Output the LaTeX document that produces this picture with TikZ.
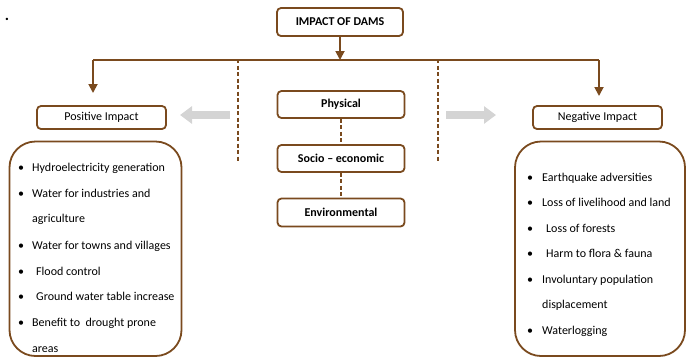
\documentclass[tikz,border=0pt]{standalone}
\usepackage{fontspec}
\setmainfont{Carlito}
\usetikzlibrary{arrows.meta}
\definecolor{dambrown}{RGB}{122,74,30}
\definecolor{arrowgray}{RGB}{212,212,212}
\begin{document}
\begin{tikzpicture}[x=1pt,y=-1pt,
  font=\fontsize{12}{14}\selectfont,
  box/.style={draw=dambrown,line width=1.8pt,rounded corners=4pt,inner sep=0pt,
    minimum width=127pt,minimum height=27pt},
  smallbox/.style={box,minimum width=129pt,minimum height=23pt},
  bigbox/.style={draw=dambrown,line width=1.8pt,rounded corners=26pt},
  conn/.style={draw=dambrown,line width=1.8pt},
  arr/.style={conn,-{Triangle[length=9pt,width=9pt]}},
  dashconn/.style={draw=dambrown,line width=2pt,dash pattern=on 4pt off 2.5pt},
  grayarrow/.style={draw=arrowgray,line width=8pt,-{Triangle[length=12pt,width=17pt]}},
  item/.style={anchor=base west,inner sep=0pt},
  bul/.style={anchor=base,inner sep=0pt}]
\useasboundingbox (0,0) rectangle (688,357);
\node[inner sep=0pt,anchor=base,font=\fontsize{16}{18}\selectfont\bfseries] (dot) at (7,20) {.};
% main boxes
\node[box,minimum width=126pt,minimum height=28pt,font=\fontsize{12}{14}\selectfont\bfseries] (title) at (340,22) {IMPACT OF DAMS};
\node[box,font=\fontsize{12}{14}\selectfont\bfseries] (phys) at (341,104.5) {Physical};
\node[box,font=\fontsize{12}{14}\selectfont\bfseries] (socio) at (341,158.5) {Socio – economic};
\node[box,minimum height=28pt,font=\fontsize{12}{14}\selectfont\bfseries] (env) at (341,212.5) {Environmental};
\node[smallbox] (pos) at (101.5,117.5) {Positive Impact};
\node[smallbox] (neg) at (597.5,117.5) {Negative Impact};
% connectors
\coordinate (hm) at (340,60);
\coordinate (hl) at (93,60);
\coordinate (hr) at (599,60);
\coordinate (la) at (93,93);
\coordinate (ra) at (599,96);
\draw[arr] (title.south) -- (hm);
\draw[conn] (hl) -- (hr);
\draw[arr] (hl) -- (la);
\draw[arr] (hr) -- (ra);
\coordinate (d1a) at (238,59);
\coordinate (d1b) at (238,161);
\coordinate (d2a) at (438,59);
\coordinate (d2b) at (438,161);
\draw[dashconn] (d1a) -- (d1b);
\draw[dashconn] (d2a) -- (d2b);
\draw[dashconn] (phys.south) -- (socio.north);
\draw[dashconn] (socio.south) -- (env.north);
% gray arrows
\coordinate (g1a) at (230,115);
\coordinate (g1b) at (180,115);
\coordinate (g2a) at (446,115);
\coordinate (g2b) at (496,115);
\draw[grayarrow] (g1a) -- (g1b);
\draw[grayarrow] (g2a) -- (g2b);
% big boxes
\draw[bigbox] (9.5,356) rectangle (181.5,141.5);
\draw[bigbox] (515,356) rectangle (685,141.5);
% left list
\foreach \y/\b in {171/1,197/1,222/0,249/1,275/1,300/1,326/1,352/0}{
  \ifnum\b=1 \node[bul] at (21,\y) {•};\fi
}
\node[item] (p1) at (32,171) {Hydroelectricity generation};
\node[item] (p2) at (32,197) {Water for industries and};
\node[item] (p3) at (32,222) {agriculture};
\node[item] (p4) at (32,249) {Water for towns and villages};
\node[item] (p5) at (36,275) {Flood control};
\node[item] (p6) at (36,300) {Ground water table increase};
\node[item] (p7) at (32,326) {Benefit to\ \ drought prone};
\node[item] (p8) at (32,352) {areas};
% right list
\foreach \y/\b in {181/1,206.5/1,232/1,257.5/1,283/1,308.5/0,334/1}{
  \ifnum\b=1 \node[bul] at (530,\y) {•};\fi
}
\node[item] (n1) at (542,181) {Earthquake adversities};
\node[item] (n2) at (542,206.5) {Loss of livelihood and land};
\node[item] (n3) at (546,232) {Loss of forests};
\node[item] (n4) at (546,257.5) {Harm to flora \& fauna};
\node[item] (n5) at (542,283) {Involuntary population};
\node[item] (n6) at (542,308.5) {displacement};
\node[item] (n7) at (542,334) {Waterlogging};
\end{tikzpicture}
\end{document}
